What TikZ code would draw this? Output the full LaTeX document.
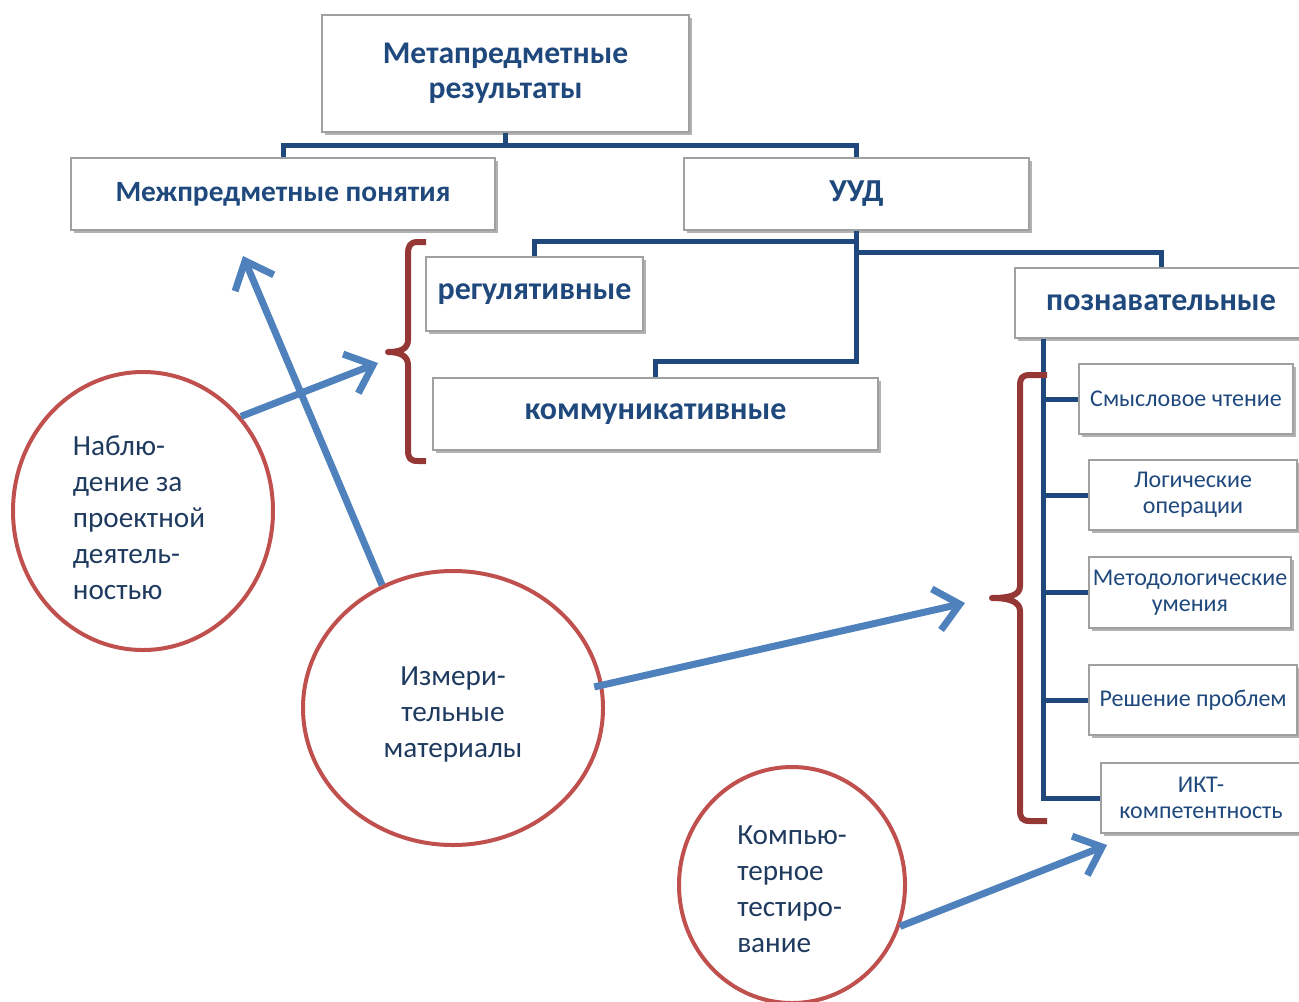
\documentclass[tikz,border=0pt]{standalone}
\usepackage{fontspec}
\setmainfont{Carlito}
\usetikzlibrary{shapes.geometric,arrows.meta,shadows,calc}
\definecolor{dblue}{HTML}{1F497D}
\definecolor{tblue}{HTML}{1F3A5F}
\definecolor{bred}{HTML}{953735}
\definecolor{cred}{HTML}{C0504D}
\definecolor{ablue}{HTML}{4F81BD}
\definecolor{bgray}{HTML}{A0A0A0}
\begin{document}
\begin{tikzpicture}[x=0.5pt,y=-0.5pt,
 box/.style={draw=bgray, line width=0.7pt, fill=white,
   drop shadow={shadow xshift=1.5pt,shadow yshift=-1.5pt,opacity=0.3,fill=black},
   inner sep=0pt, align=center, text=dblue},
 bigtxt/.style={font=\fontsize{15.8}{17.5}\selectfont\bfseries},
 midtxt/.style={font=\fontsize{14.7}{17}\selectfont\bfseries},
 lrgtxt/.style={font=\fontsize{16}{17}\selectfont\bfseries},
 smalltxt/.style={font=\fontsize{12}{13}\selectfont},
 conn/.style={draw=dblue, line width=2.5pt},
 bracepath/.style={draw=bred, line width=3pt, line join=round},
 circ/.style={ellipse, draw=cred, line width=2pt, inner sep=0pt, text=tblue,
   font=\fontsize{14.6}{18}\selectfont},
 arr/.style={draw=ablue, line width=3.5pt, -{Straight Barb[length=12pt,width=21pt]}}
]
\useasboundingbox (0,0) rectangle (1299,1001);

% boxes
\node[box, bigtxt, minimum width=183.5pt, minimum height=58.5pt] (top) at (505.5,73.5) {Метапредметные\\результаты};
\node[box, midtxt, minimum width=212pt, minimum height=36pt] (mezh) at (283,194) {Межпредметные понятия};
\node[box, lrgtxt, minimum width=172.5pt, minimum height=36pt] (uud) at (856.5,194) {УУД};
\node[box, lrgtxt, minimum width=108.5pt, minimum height=37pt] (reg) at (534.5,294) {регулятивные};
\node[box, lrgtxt, minimum width=222.5pt, minimum height=36pt] (kom) at (655.5,414) {коммуникативные};
\node[box, lrgtxt, minimum width=146pt, minimum height=35pt] (pozn) at (1161,303) {познавательные};
\node[box, smalltxt, minimum width=107pt, minimum height=35pt] (smysl) at (1186,399) {Смысловое чтение};
\node[box, smalltxt, minimum width=104pt, minimum height=35pt] (log) at (1193,495) {Логические\\операции};
\node[box, smalltxt, minimum width=101pt, minimum height=35.5pt] (met) at (1190,592.5) {Методологические\\умения};
\node[box, smalltxt, minimum width=104pt, minimum height=35pt] (resh) at (1193,700) {Решение проблем};
\node[box, smalltxt, minimum width=100pt, minimum height=35pt] (ikt) at (1201,798) {ИКТ-\\компетентность};

% connectors
\draw[conn] (top.south) -- ([yshift=-6.5pt]top.south) coordinate (j1);
\draw[conn] (mezh.north) |- (j1) -| (uud.north);
\draw[conn] (uud.south) |- ([yshift=7.5pt]reg.north) -- (reg.north);
\draw[conn] (uud.south) |- ([yshift=8pt]kom.north) -- (kom.north);
\draw[conn] ([yshift=-11pt]uud.south) -| (pozn.north);
\coordinate (sp) at ([xshift=14.5pt]pozn.south west);
\draw[conn] (sp) |- (ikt.west);
\draw[conn] (smysl.west) -- (smysl.west -| sp);
\draw[conn] (log.west) -- (log.west -| sp);
\draw[conn] (met.west) -- (met.west -| sp);
\draw[conn] (resh.west) -- (resh.west -| sp);

% braces
\draw[bracepath] (426,242) -- (418,242) .. controls (410,242) and (408,246) .. (408,254) -- (408,340) .. controls (408,349) and (400,352) .. (388,352) .. controls (400,352) and (408,356) .. (408,365) -- (408,450) .. controls (408,458) and (410,461) .. (418,461) -- (426,461);
\draw[bracepath] (1047,375) -- (1030,375) .. controls (1022,375) and (1020,378) .. (1020,386) -- (1020,586) .. controls (1020,595) and (1010,598) .. (992,598) .. controls (1010,598) and (1020,602) .. (1020,611) -- (1020,810) .. controls (1020,818) and (1022,821) .. (1030,821) -- (1047,821);

% circles
\node[circ, align=left, minimum width=130pt, minimum height=139pt] (nab) at (143,511) {\rule{0pt}{16.5pt}Наблю-\\дение за\\проектной\rule{4pt}{0pt}\\деятель-\\ностью};
\node[circ, align=center, minimum width=150pt, minimum height=137pt] (izm) at (453,708) {\rule{0pt}{15.5pt}Измери-\\тельные\\материалы};
\node[circ, align=left, minimum width=113pt, minimum height=118pt] (komp) at (792,885) {\rule{0pt}{13.5pt}Компью-\\терное\\тестиро-\rule{2pt}{0pt}\\вание};

% arrow targets
\coordinate (t1) at (378,363);
\coordinate (t2) at (243,256);
\coordinate (t3) at (965,603);
\coordinate (t4) at (1107,845);

\draw[arr] (nab.44) -- (t1);
\draw[arr] (izm.120) -- (t2);
\draw[arr] ([xshift=-4.5pt]izm.8) -- (t3);
\draw[arr] (komp.-21) -- (t4);
\end{tikzpicture}
\end{document}
